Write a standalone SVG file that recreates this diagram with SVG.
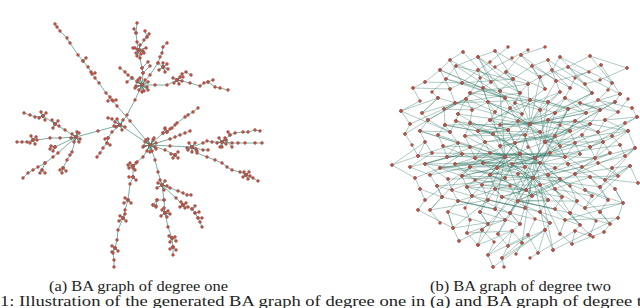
<svg xmlns="http://www.w3.org/2000/svg" xmlns:xlink="http://www.w3.org/1999/xlink" width="640" height="308" viewBox="0 0 640 308">
<style>
.cap{font-family:"Liberation Serif","DejaVu Serif",serif;font-size:14px;fill:#222}
</style>
<defs>
<marker id="dot" viewBox="-3 -3 6 6" markerWidth="6" markerHeight="6" markerUnits="userSpaceOnUse" overflow="visible"><circle r="1.45" fill="#e2412f" stroke="#707070" stroke-width=".5"/></marker>
<g id="ap">
<path d="M55 24L57 27 60 31 67 38 70 43 78 55 83 61 88 67 91 72 95 78 99 83 106 93 112 100 117 106 130 121 150 145M83 61L86 58M92 74L95 73M113 101L116 100M110 97L108 101"/>
<path d="M142 85L135 100 127 115 120 125 150 145M120 125L98 131 76 137"/>
<path d="M142 85l5 2-5-2 3-5-3 5-5-3 5 3-6 1 6-1-3 5 3-5 2 6-2-6 6-3-6 3-4-5 4 5 6 5-6-5-7 3 7-3 0 7 0-7-2-7 2 7"/>
<path d="M142 85L143 73 142 68 140 58 138 50 137 42 136 33 137 23M138 50L144 40 147 37 145 31M147 37L149 34M136 33L134 29M142 68L148 62M143 73L150 66"/>
<path d="M139 50l4 1-4-1-3 3 3-3 2 4-2-4-4-2 4 2 1-5-1 5 5 3-5-3-2 6 2-6 7-2-7 2-6-2"/>
<path d="M142 85L150 75 158 63 160 57 162 53 163 47 167 43M158 63L163 67l4-3-4 3 5 2-5-2 2 5-2-5-4 3 4-3 0-4"/>
<path d="M142 85L132 78 128 75 125 72 120 68M132 78L127 82"/>
<path d="M142 85L155 85 167 85 177 80 182 74 186 72 191 75M177 80L190 83 200 86 204 83 208 82 213 80M208 82L215 87 220 88 228 90"/>
<path d="M177 80l3-3-3 3-4-2 4 2 2 4-2-4-3 3 3-3 5 1-5-1 6-3"/>
<path d="M120 125l5 2-5-2 3-5-3 5-5-3 5 3-4 2 4-2 2 5-2-5-6 1 6-1-3-6 3 6M120 125L112 119 108 118"/>
<path d="M120 125L112 132 108 138 107 143 103 148 100 153 97 157M107 143l3 2M108 138l-3 1"/>
<path d="M76 137l4 2-4-2 3-4-3 4-4-3 4 3-5 1 5-1-2 5 2-5 3 5-3-5 1-5-1 5"/>
<path d="M76 137L65 130 55 124 43 116 35 117 30 115 24 113M55 124l-3-4 3 4 3-3-3 3-2 4 2-4 4 2M43 116l-2-4 2 4 3-3-3 3-4 2 4-2 2 4"/>
<path d="M76 137L60 138 50 138 37 140 33 140 27 142 22 142 17 142M33 140l-2-4 2 4 3-3-3 3-3 3 3-3 2 4"/>
<path d="M76 137L58 153 53 157 45 163 38 167 33 170 28 173 23 178M45 163L42 170 40 173M42 170l3 3"/>
<path d="M76 137L72 152 70 155 67 160 63 168 62 173M63 168l-3 2M63 168l3 3M76 137L55 147l-4-1 4 1-2 4 2-4-5 2"/>
<path d="M150 145l5 2-5-2 3-5-3 5-5-3 5 3-6 1 6-1-3 6 3-6 2 6-2-6 6-2-6 2-4-5 4 5 6 4-6-4-7 2 7-2 0 7 0-7-2-6 2 6 4-7-4 7"/>
<path d="M150 145L143 157 137 162 133 168 133 177 130 184 128 200 125 210 123 218 118 230 117 240 115 248 113 253 114 260 114 267M133 166l-3-3 3 3 3-3-3 3-4 2 4-2 2 4-2-4-5-1M133 177l3 3-3-3-4 0M128 200l-3-2 3 2 3 3-3-3-4 3M123 218l-3-2 3 2 3 3-3-3-4 3 4-3 2-4M115 248l-3-2 3 2 3 3-3-3-3 4"/>
<path d="M150 145L155 160 158 172 162 185l-4-2 4 2 3-4-3 4 5 1-5-1 2 5-2-5-5 3 5-3-2-5"/>
<path d="M162 185L164 200 165 213 168 227 172 238 173 247 173 255M165 213l-3-3 3 3 3-2-3 2-4 3 4-3 2 4-2-4 5 1-5-1-1-5M172 238l-3-2 3 2 3-1-3 1-2 4 2-4 4 3M173 247l-3 2M173 247l3 3M164 200L157 200 153 205M157 200l-1 6M153 205l3 2"/>
<path d="M162 185L170 188 178 191 183 193 187 195 191 195M162 185L176 198 183 205 188 207 192 209 195 213 198 218 200 222 202 227M183 205l-2-3 2 3 3-2-3 2-3 2 3-2 2 3M192 209l3-3M195 213l4-1M198 218l4 0"/>
<path d="M150 145L163 133 167 132 172 128 175 125 177 123 185 117 188 115 193 112 198 108M150 145L170 139 175 137 180 135 185 133 190 131M163 133l2-4M167 132l-2-4 2 4 3-3"/>
<path d="M150 145L170 146 192 147M150 145L165 150 175 155 178 158M175 155l-2 3M175 155l3-3M175 155l-4-1"/>
<path d="M192 147l4 2-4-2 3-4-3 4-3-4 3 4-5 1 5-1 0 5 0-5-4 3 4-3 5 4M192 147L203 143 207 141 212 142 222 142l4 2-4-2 3-4-3 4-3-4 3 4-5 1 5-1 0 5 0-5 4-2-4 2-2 5"/>
<path d="M222 142L232 143 238 143 245 143 255 143 262 143M222 142L230 135 235 133 243 132 248 132 255 130 260 131M226 140L232 147M230 135L228 132M192 147L203 150 208 150"/>
<path d="M192 147L197 153 207 157 215 160 222 163 227 167 232 170 240 172 246 175 253 178 258 181M246 175l-2-3 2 3 3-3-3 3-3 2 3-2 2 4-2-4 4 1"/>
</g>
<g id="bp">
<path d="M463 52L450 60 440 70 425 82 413 88 420 101 401 111 410 124 405 134 412 145 418 156 392 165 415 178 420 189 425 200 418 210"/>
<path d="M495 51L478 57 456 66 446 79 432 92 438 98 422 113 428 120 420 131 425 142 432 153 410 167 430 175 437 186 442 197 430 210 440 223"/>
<path d="M508 47L490 62 478 70 462 83 450 89 455 103 444 109 445 125 438 135 443 146 447 157 425 164 448 179 452 190 458 201 448 212 453 228 459 241"/>
<path d="M528 50L512 58 495 67 480 78 470 93 466 99 458 114 456 121 450 132 458 143 462 154 440 168 462 176 467 187 472 196 465 208 470 220 467 233 478 245"/>
<path d="M545 47L521 55 506 72 491 82 483 88 488 102 472 110 470 123 465 136 470 147 475 158 455 164 475 180 482 185 488 200 480 212 488 224 482 230 494 242 488 255 493 267"/>
<path d="M548 60L532 66 513 79 500 91 505 98 495 112 490 120 478 131 485 142 490 153 470 167 490 175 495 189 502 197 495 209 505 220 498 234 508 246 502 258 504 267"/>
<path d="M560 57L552 70 528 84 520 93 515 103 510 108 500 125 493 134 500 146 505 157 483 163 505 178 510 186 518 201 510 213 520 224 512 231 522 243 516 254"/>
<path d="M590 56L568 67 540 77 545 89 530 100 522 114 518 121 508 130 515 143 520 154 497 168 518 174 526 190 532 196 525 208 535 219 528 235 538 253 530 258"/>
<path d="M589 72L556 81 560 92 548 102 540 110 530 124 525 135 528 147 535 158 512 164 533 178 540 185 548 200 540 212 550 223 545 230 553 250"/>
<path d="M601 65L575 78 570 88 565 98 555 113 548 120 540 132 545 142 550 153 525 167 548 175 555 189 562 197 555 209 565 220 560 234 572 244"/>
<path d="M627 68L600 80 585 84 592 93 580 103 568 109 560 125 555 136 560 146 565 157 540 163 560 179 570 186 577 201 570 213 580 225 575 231 593 237"/>
<path d="M612 83L608 90 598 100 586 113 575 121 570 131 575 143 580 154 555 168 575 174 585 190 592 196 585 208 596 221 590 235"/>
<path d="M620 94L615 102 600 110 590 124 582 135 590 147 595 158 568 164 590 177 600 187 608 200 600 212 610 224 604 232"/>
<path d="M628 99L618 112 605 120 598 132 603 142 610 153 582 167 605 180 615 189 623 203 618 218"/>
<path d="M632 108L637 117 625 123 612 136 620 145 625 156 598 163 618 176 612 168 630 166 638 183M628 131L635 148 612 168"/>
<path d="M401 111L438 98 422 113 455 103 444 109 472 110 466 99 495 112 488 102 522 114 515 103 540 110 530 100 568 109 548 102 586 113 565 98 600 110 580 103 618 112 598 100 632 108"/>
<path d="M405 134L428 120 450 132 445 125 478 131 470 123 508 130 490 120 540 132 518 121 570 131 548 120 598 132 575 121 628 131 605 120 637 117"/>
<path d="M392 165L425 142 418 156 458 143 447 157 485 142 475 158 515 143 505 157 545 142 535 158 575 143 565 157 603 142 595 158 635 148 625 156"/>
<path d="M415 178L440 168 430 175 470 167 462 176 497 168 490 175 525 167 518 174 555 168 548 175 582 167 575 174 612 168 605 180 630 166"/>
<path d="M420 189L442 197 437 186 472 196 467 187 502 197 495 189 532 196 526 190 562 197 555 189 592 196 585 190 623 203 615 189"/>
<path d="M418 210L453 228 448 212 488 224 480 212 520 224 510 213 550 223 540 212 580 225 570 213 610 224 600 212"/>
<path d="M459 241L482 230 478 245 512 231 508 246 545 230 538 253 575 231 572 244 604 232"/>
<path d="M425 82L462 83 450 60 491 82 478 57 513 79 495 51 540 77 521 55 556 81 548 60 585 84 560 57 612 83 590 56 627 68"/>
<path d="M413 88L450 89 440 70 483 88 478 70 520 93 506 72 545 89 532 66 570 88 552 70 592 93 568 67 620 94 601 65"/>
<path d="M401 111L450 132 420 131 470 147 443 146 497 168 462 176 526 190 490 175 548 200 518 201 577 201 548 175 608 200 590 177 638 183"/>
<path d="M463 52L500 91 478 57 520 93 455 103 530 100 490 120 560 92 530 124 592 93 555 113 620 94"/>
<path d="M425 200L470 167 430 210 488 200 453 228 505 220 467 233 512 231 488 255 528 235 502 258 545 230 493 267"/>
<path d="M410 124L466 99 428 120 483 88 446 79 505 98 462 83 513 79"/>
<path d="M637 117L590 147 628 131 575 174 635 148 600 187 630 166 585 208 623 203 565 220 618 218 553 250"/>
<path d="M440 70L505 98 456 66 528 84 470 93 548 102 483 88 555 113 500 125 575 121 515 143 590 124 545 142 615 102"/>
<path d="M410 167L462 154 425 164 483 163 440 168 505 157 455 164 525 167 470 167 540 163 483 163 568 164"/>
<path d="M448 179L505 178 467 187 526 190 482 185 540 185 502 197 560 179 518 201 575 174 532 196 590 177"/>
<path d="M442 197L495 209 458 201 510 213 472 196 525 208 488 200 540 212 502 197 555 209 518 201 570 213"/>
<path d="M445 125L493 134 456 121 508 130 465 136 525 135 478 131 540 132 485 142 555 136 500 146 570 131"/>
<path d="M533 178L470 147M533 178L440 168M533 178L490 120M533 178L505 220M533 178L560 234M533 178L600 187M533 178L610 153M533 178L575 121M533 178L482 230M533 178L462 176M533 178L520 224M533 178L598 163M533 178L458 201M533 178L548 102M533 178L425 164M533 178L568 109M533 178L618 176M533 178L498 234M533 178L590 235M533 178L512 164M533 178L555 136M533 178L475 158M533 178L545 230M533 178L585 208M533 178L437 186"/>
<path d="M530 124L505 98M530 124L488 102M530 124L565 98M530 124L540 77M530 124L513 79M530 124L600 110M530 124L478 131M530 124L445 125M530 124L458 114M530 124L586 113M530 124L560 146M530 124L500 146M530 124L470 93M530 124L528 84M530 124L615 102M530 124L556 81M530 124L438 98M530 124L605 120M530 124L520 154M530 124L548 175M530 124L490 175"/>
<path d="M520 154L475 158M520 154L447 157M520 154L462 154M520 154L565 157M520 154L580 154M520 154L497 168M520 154L505 178M520 154L540 185M520 154L550 153M520 154L493 134M520 154L508 130M520 154L555 168M520 154L483 163M520 154L488 200M520 154L532 196M520 154L432 153M520 154L595 158"/>
<path d="M545 142L600 110M545 142L628 131M545 142L555 113M545 142L568 164M545 142L590 147M545 142L525 135M545 142L510 108M545 142L570 131M545 142L540 110M545 142L582 167M545 142L603 142M545 142L548 120"/>
<path d="M535 158L458 114M535 158L470 123M535 158L505 98M535 158L590 124M535 158L625 123M535 158L612 136M535 158L568 109M535 158L582 135M535 158L478 245M535 158L522 243M535 158L553 250M535 158L510 213M535 158L570 213M535 158L600 212M535 158L440 168M535 158L452 190M535 158L418 156M535 158L620 145M535 158L490 153M535 158L497 168"/>
<path d="M505 157L420 131M505 157L438 135M505 157L465 136M505 157L456 121M505 157L483 88M505 157L500 91M505 157L472 196M505 157L467 187M505 157L480 212M505 157L495 209M505 157L525 208M505 157L548 200M505 157L540 163"/>
</g>
</defs>
<g id="graph-a">
<g id="graph-a-connectors"><use xlink:href="#ap" href="#ap" fill="none" stroke="#2f7f69" stroke-opacity=".8" stroke-width=".8" stroke-linejoin="round"/></g>
<g id="graph-a-nodes"><use xlink:href="#ap" href="#ap" fill="none" stroke="none" marker-start="url(#dot)" marker-mid="url(#dot)" marker-end="url(#dot)"/></g>
</g>
<g id="graph-b">
<g id="graph-b-connectors"><use xlink:href="#bp" href="#bp" fill="none" stroke="#2a725f" stroke-opacity=".5" stroke-width=".75" stroke-linejoin="round"/></g>
<g id="graph-b-nodes"><use xlink:href="#bp" href="#bp" fill="none" stroke="none" marker-start="url(#dot)" marker-mid="url(#dot)" marker-end="url(#dot)"/></g>
</g>
<g id="captions">
<text class="cap" x="49" y="291" textLength="179" lengthAdjust="spacingAndGlyphs">(a) BA graph of degree one</text>
<text class="cap" x="430" y="291" textLength="181" lengthAdjust="spacingAndGlyphs">(b) BA graph of degree two</text>
<text class="cap" x="0" y="306" textLength="642" lengthAdjust="spacingAndGlyphs">1: Illustration of the generated BA graph of degree one in (a) and BA graph of degree t</text>
</g>
</svg>
